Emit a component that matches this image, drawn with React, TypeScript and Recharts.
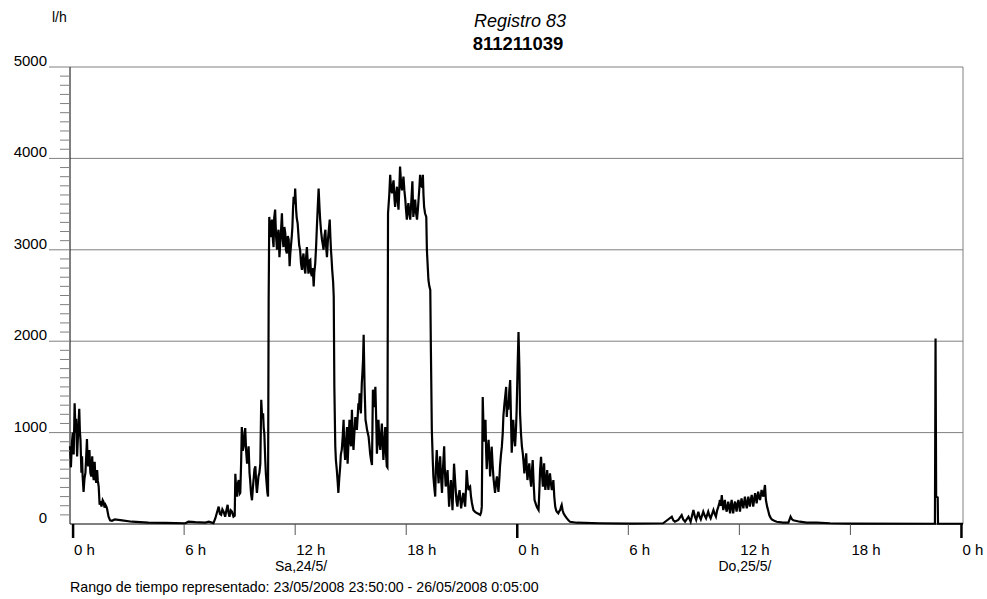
import { LineChart, Line, XAxis, YAxis, ReferenceLine } from 'recharts';

// minutes since 0h on 24/05/2008, flow in l/h
const nightFlow: [number, number][] = [
  [-10, 850], [-7, 620], [-4, 880], [-1, 1000], [2, 760], [5, 1320], [8, 1000], [10, 1150], [13, 740],
  [17, 1050], [20, 1260], [22, 1020], [24, 920], [27, 560], [29, 740], [31, 520], [34, 350], [37, 500],
  [40, 560], [42, 700], [45, 930], [47, 700], [49, 630], [51, 760], [53, 810], [56, 560], [59, 520],
  [62, 740], [64, 560], [67, 480], [70, 680], [72, 520], [75, 450], [78, 590], [80, 480], [83, 410],
  [86, 210], [89, 250], [92, 190], [96, 260], [99, 240], [102, 180], [105, 210], [108, 190], [110, 170],
  [115, 80], [120, 40], [126, 35], [135, 50], [159, 40], [191, 25], [244, 15], [299, 12], [364, 8],
  [374, 25], [396, 20], [429, 15], [440, 25], [455, 10],
];

const morningFlow: [number, number][] = [
  [461, 60], [466, 120], [472, 190], [476, 110], [480, 100], [484, 160], [488, 135], [493, 80], [497, 150],
  [501, 210], [504, 120], [507, 80], [511, 150], [515, 135], [520, 80], [524, 90], [526, 550], [528, 420],
  [531, 300], [534, 440], [537, 480], [540, 330], [542, 340], [545, 700], [547, 1060], [550, 800],
  [553, 850], [556, 1000], [558, 1050], [561, 800], [564, 660], [567, 760], [569, 850], [572, 560],
  [574, 480], [577, 330], [580, 260], [583, 400], [585, 480], [588, 600], [591, 630], [594, 420],
  [596, 340], [599, 450], [601, 520], [604, 560], [607, 660], [610, 1360], [613, 1150], [616, 1210],
  [618, 1050], [620, 990], [623, 700], [625, 550], [628, 420], [630, 340], [632, 300],
];

const firstPeak: [number, number][] = [
  [634, 2450], [636, 3360], [639, 3200], [641, 3140], [643, 3300], [645, 3330], [648, 3100], [650, 3030],
  [652, 3350], [655, 3440], [658, 3150], [661, 3000], [663, 3150], [666, 3220], [669, 2920], [672, 3100],
  [674, 3200], [677, 3400], [680, 3100], [682, 3030], [685, 3250], [688, 3180], [690, 3000], [693, 2960],
  [696, 3150], [699, 3110], [702, 2820], [704, 2950], [706, 3030], [709, 3150], [711, 3250], [713, 3450],
  [715, 3580], [718, 3500], [720, 3670], [723, 3440], [725, 3350], [728, 3290], [731, 3140], [733, 3050],
  [736, 3000], [739, 2850], [742, 2780], [744, 2900], [747, 2960], [750, 2800], [753, 2740], [755, 2900],
  [758, 3030], [761, 2850], [763, 2740], [766, 2880], [769, 2890], [771, 2750], [774, 2710], [777, 2800],
  [780, 2600], [782, 2750], [785, 2850], [788, 3050], [790, 3220], [793, 3450], [796, 3670], [799, 3450],
  [801, 3330], [804, 3200], [807, 3110], [810, 3050], [812, 3000], [815, 3150], [818, 3220], [820, 3050],
  [823, 2920], [826, 3100], [828, 3180], [830, 3250], [832, 3330], [834, 3150], [836, 3000], [838, 2900],
  [840, 2780], [843, 2650], [845, 2490],
];

const afternoonFlow: [number, number][] = [
  [847, 1500], [850, 850], [852, 700], [855, 590], [858, 450], [860, 340], [863, 500], [866, 630],
  [868, 760], [871, 810], [874, 950], [877, 1140], [879, 850], [882, 700], [885, 900], [888, 1060],
  [890, 660], [893, 900], [896, 1140], [898, 950], [901, 850], [904, 1250], [906, 1000], [909, 810],
  [912, 1000], [915, 1170], [917, 1100], [920, 1030], [923, 1200], [925, 1320], [927, 1250], [929, 1430],
  [931, 1300], [933, 1210], [936, 1540], [938, 1650], [940, 1790], [942, 2070], [945, 1500], [948, 1140],
  [950, 1100], [953, 1030], [955, 1000], [958, 955], [961, 850], [963, 770], [966, 700], [969, 645],
  [972, 1470], [974, 1300], [976, 1280], [978, 1400], [980, 1500], [983, 1100], [985, 770], [988, 950],
  [990, 1140], [993, 900], [996, 810], [998, 950], [1001, 1100], [1004, 850], [1006, 700], [1009, 900],
  [1012, 1060], [1014, 800], [1017, 630], [1019, 620],
];

const secondPeak: [number, number][] = [
  [1021, 3400], [1025, 3600], [1028, 3820], [1031, 3650], [1034, 3620], [1036, 3700], [1039, 3760],
  [1042, 3550], [1044, 3470], [1047, 3600], [1050, 3690], [1052, 3550], [1055, 3440], [1058, 3700],
  [1060, 3910], [1063, 3750], [1066, 3650], [1068, 3700], [1071, 3800], [1074, 3650], [1077, 3550],
  [1079, 3450], [1082, 3330], [1085, 3450], [1087, 3510], [1090, 3400], [1093, 3330], [1096, 3500],
  [1100, 3750], [1103, 3360], [1106, 3450], [1109, 3550], [1112, 3400], [1115, 3330], [1118, 3450],
  [1120, 3550], [1123, 3700], [1125, 3820], [1128, 3700], [1131, 3690], [1134, 3820], [1136, 3600],
  [1138, 3470], [1141, 3400], [1145, 3360], [1147, 3000], [1150, 2800], [1152, 2670], [1155, 2600],
  [1158, 2560], [1160, 1900],
];

const eveningFlow: [number, number][] = [
  [1163, 1030], [1166, 700], [1168, 520], [1171, 400], [1174, 300], [1176, 600], [1179, 810], [1182, 600],
  [1185, 445], [1187, 600], [1190, 740], [1193, 500], [1196, 340], [1199, 600], [1203, 850], [1205, 600],
  [1208, 410], [1211, 500], [1214, 590], [1217, 350], [1219, 190], [1222, 350], [1225, 480], [1228, 300],
  [1230, 150], [1233, 450], [1235, 660], [1238, 500], [1241, 340], [1243, 250], [1246, 190], [1249, 300],
  [1253, 370], [1256, 250], [1258, 170], [1261, 250], [1265, 340], [1268, 250], [1271, 190], [1274, 400],
  [1276, 590], [1279, 450], [1282, 370], [1284, 400], [1287, 410], [1290, 300], [1293, 230], [1296, 180],
  [1298, 150], [1304, 130], [1309, 120], [1315, 110], [1320, 100], [1323, 130], [1325, 190], [1328, 1390],
  [1331, 1000], [1333, 900], [1335, 1050], [1337, 1140], [1339, 800], [1341, 600], [1344, 800], [1347, 920],
  [1350, 700], [1352, 520], [1355, 700], [1357, 846], [1360, 650], [1363, 500], [1366, 400], [1368, 340],
  [1371, 450], [1374, 520], [1377, 420], [1379, 350], [1382, 500], [1384, 627], [1387, 750], [1390, 846],
  [1393, 1000], [1395, 1180], [1398, 1300], [1401, 1400], [1404, 1500], [1406, 1170], [1409, 1350],
  [1411, 1250], [1414, 1450], [1417, 1575], [1420, 1100], [1422, 780], [1425, 1000], [1427, 1140],
  [1430, 950], [1433, 850], [1436, 1050], [1438, 1250], [1441, 1700], [1444, 2100], [1447, 1690],
  [1449, 1210], [1452, 990], [1455, 850], [1458, 770], [1461, 650], [1463, 554], [1466, 680], [1469, 773],
  [1471, 600], [1473, 481], [1476, 580], [1479, 664], [1482, 500], [1485, 408], [1487, 550], [1490, 700],
  [1493, 450], [1496, 263], [1500, 220], [1503, 190], [1506, 170], [1509, 153], [1512, 400], [1514, 590],
  [1517, 736], [1520, 550], [1523, 408], [1525, 550], [1527, 664], [1529, 480], [1531, 372], [1534, 480],
  [1537, 590], [1539, 450], [1541, 372], [1544, 480], [1546, 554], [1549, 450], [1552, 372], [1555, 420],
  [1557, 481], [1560, 300], [1563, 190], [1566, 150], [1568, 135], [1573, 117], [1576, 140], [1579, 153],
  [1582, 190], [1584, 208], [1587, 150], [1590, 117], [1595, 90], [1601, 62], [1606, 40], [1611, 25],
  [1633, 14], [1708, 8], [1806, 5], [1913, 8],
];

const sundayFlow: [number, number][] = [
  [1941, 80], [1946, 40], [1951, 25], [1962, 44], [1973, 98], [1978, 50], [1984, 25], [1995, 80], [2002, 25],
  [2011, 153], [2016, 80], [2020, 44], [2027, 135], [2031, 80], [2035, 50], [2043, 135], [2048, 90],
  [2052, 62], [2059, 135], [2063, 90], [2067, 62], [2076, 153], [2080, 110], [2084, 80], [2088, 150],
  [2092, 190], [2095, 230], [2097, 263], [2100, 200], [2103, 317], [2106, 200], [2108, 153], [2111, 230],
  [2113, 263], [2116, 180], [2119, 135], [2122, 200], [2124, 245], [2127, 180], [2130, 117], [2133, 220],
  [2135, 263], [2138, 170], [2140, 117], [2143, 200], [2146, 245], [2149, 180], [2151, 135], [2154, 220],
  [2157, 263], [2160, 190], [2162, 135], [2165, 230], [2167, 281], [2170, 220], [2173, 172], [2176, 250],
  [2178, 299], [2181, 230], [2184, 172], [2187, 250], [2189, 299], [2192, 240], [2194, 190], [2197, 260],
  [2200, 317], [2203, 250], [2205, 190], [2208, 270], [2211, 336], [2214, 280], [2216, 226], [2219, 300],
  [2221, 354], [2224, 300], [2227, 263], [2230, 320], [2232, 372], [2235, 330], [2238, 299], [2241, 380],
  [2243, 427], [2246, 263], [2250, 190], [2254, 140], [2257, 98], [2261, 70], [2265, 50], [2273, 35],
  [2281, 25], [2302, 15], [2319, 15], [2326, 80], [2330, 55], [2335, 40], [2356, 25], [2378, 15],
  [2411, 15], [2454, 8], [2518, 4], [2794, 3],
];

const lateSpike: [number, number][] = [
  [2796, 2030], [2798, 300], [2803, 290], [2804, 5], [2885, 3],
];

const xTicks = [0, 360, 720, 1080, 1440, 1800, 2160, 2520, 2880];
const dayLabels: Record<number, string> = { 720: 'Sa,24/5/', 2160: 'Do,25/5/' };
const yTicks = Array.from({ length: 51 }, (_, i) => i * 100);
const gridValues = [1000, 2000, 3000, 4000, 5000];

const data = [
  ...nightFlow, ...morningFlow, ...firstPeak, ...afternoonFlow,
  ...secondPeak, ...eveningFlow, ...sundayFlow, ...lateSpike,
].map(([t, v]) => ({ t, v }));

const FONT = '"Liberation Sans", Arial, sans-serif';
const PLOT_LEFT = 70;
const PLOT_BOTTOM = 524;

function XTick(props: any) {
  const { x, payload } = props;
  const v = payload.value as number;
  const isDay = v % 1440 === 0;
  const hour = (v / 60) % 24;
  return (
    <g>
      <line
        x1={x} x2={x} y1={PLOT_BOTTOM} y2={isDay ? 538 : 535}
        stroke={isDay ? '#000' : '#555'} strokeWidth={isDay ? 2.5 : 1}
      />
      <text x={x + 1} y={555} fontSize={15} fontFamily={FONT} fill="#000">{hour} h</text>
      {dayLabels[v] && (
        <text x={x + 32} y={571} fontSize={14} fontFamily={FONT} fill="#000" textAnchor="end">
          {dayLabels[v]}
        </text>
      )}
    </g>
  );
}

function YTick(props: any) {
  const { y, payload } = props;
  const v = payload.value as number;
  if (v % 1000 !== 0) {
    return <line x1={60} x2={PLOT_LEFT} y1={y} y2={y} stroke="#808080" />;
  }
  return (
    <g>
      {v !== 0 && <line x1={49} x2={PLOT_LEFT} y1={y} y2={y} stroke="#808080" />}
      <text x={47} y={y - 1} textAnchor="end" fontSize={15} fontFamily={FONT} fill="#000">{v}</text>
    </g>
  );
}

export default function App() {
  return (
    <div style={{ position: 'absolute', left: 0, top: 0, width: 987, height: 599, background: '#fff' }}>
      <LineChart
        width={987}
        height={599}
        data={data}
        margin={{ top: 67, right: 24, bottom: 0, left: 0 }}
        style={{ fontFamily: FONT }}
      >
        <XAxis
          type="number"
          dataKey="t"
          domain={[-10, 2885]}
          ticks={xTicks}
          interval={0}
          height={75}
          tickLine={false}
          axisLine={{ stroke: '#000' }}
          tick={<XTick />}
        />
        <YAxis
          type="number"
          domain={[0, 5000]}
          ticks={yTicks}
          interval={0}
          width={70}
          tickLine={false}
          axisLine={{ stroke: '#000' }}
          tick={<YTick />}
        />
        {gridValues.map((g) => (
          <ReferenceLine key={g} y={g} stroke="#808080" />
        ))}
        <ReferenceLine x={2885} stroke="#808080" />
        <Line
          type="linear"
          dataKey="v"
          stroke="#000"
          strokeWidth={2.2}
          dot={false}
          isAnimationActive={false}
        />
      </LineChart>
      <svg width={987} height={599} style={{ position: 'absolute', left: 0, top: 0, pointerEvents: 'none' }}>
        <text x={52} y={22} fontSize={14} fontFamily={FONT}>l/h</text>
        <text x={520} y={27} fontSize={18} fontStyle="italic" fontFamily={FONT} textAnchor="middle">Registro 83</text>
        <text x={518} y={50} fontSize={18.5} fontWeight="bold" fontFamily={FONT} textAnchor="middle">811211039</text>
        <text x={70} y={592} fontSize={14.2} fontFamily={FONT}>
          Rango de tiempo representado: 23/05/2008 23:50:00 - 26/05/2008 0:05:00
        </text>
      </svg>
    </div>
  );
}
